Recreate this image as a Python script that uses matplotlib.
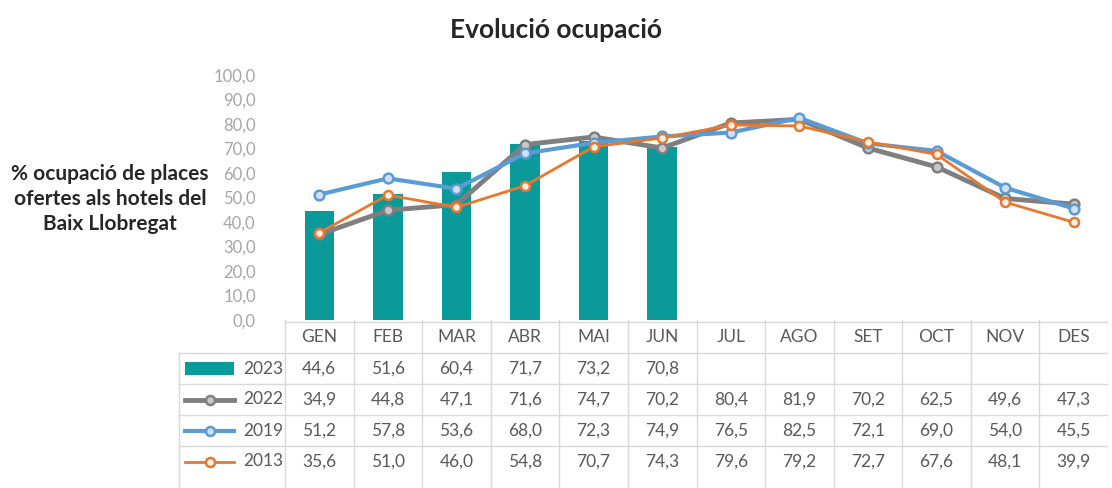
import matplotlib.pyplot as plt
from matplotlib.patches import Rectangle

plt.rcParams['font.family'] = ['Lato', 'DejaVu Sans']

months = ["GEN", "FEB", "MAR", "ABR", "MAI", "JUN", "JUL", "AGO", "SET", "OCT", "NOV", "DES"]
occ_2023 = [44.6, 51.6, 60.4, 71.7, 73.2, 70.8]
occ_2022 = [34.9, 44.8, 47.1, 71.6, 74.7, 70.2, 80.4, 81.9, 70.2, 62.5, 49.6, 47.3]
occ_2019 = [51.2, 57.8, 53.6, 68.0, 72.3, 74.9, 76.5, 82.5, 72.1, 69.0, 54.0, 45.5]
occ_2013 = [35.6, 51.0, 46.0, 54.8, 70.7, 74.3, 79.6, 79.2, 72.7, 67.6, 48.1, 39.9]
yticks = [0, 10, 20, 30, 40, 50, 60, 70, 80, 90, 100]

teal = "#0a9a9a"
gray = "#7f7f7f"
blue = "#5b9bd5"
orange = "#e8782e"
txt = "#595959"

W, H = 1112, 488
fig = plt.figure(figsize=(W / 100, H / 100), dpi=100)

def fx(px):
    return px / W

def fy(py):
    return 1 - py / H

# main chart area
left_px, right_px, top_px, base_px = 285, 1108, 75, 320
ax = fig.add_axes([fx(left_px), fy(base_px), fx(right_px - left_px), (base_px - top_px) / H])
x = list(range(len(months)))

ax.bar(x[:len(occ_2023)], occ_2023, width=0.43, color=teal, zorder=2)
ax.plot(x, occ_2022, color=gray, lw=3.5, marker="o", ms=7, mfc="#c8c8c8",
        mec=gray, mew=1.8, zorder=3)
ax.plot(x, occ_2019, color=blue, lw=3, marker="o", ms=7, mfc="#cfe0f1",
        mec=blue, mew=1.8, zorder=4)
ax.plot(x, occ_2013, color=orange, lw=2, marker="o", ms=6.5, mfc="#fdf0e6",
        mec=orange, mew=1.8, zorder=5)

ax.set_xlim(-0.5, 11.5)
ax.set_ylim(0, 100)
ax.set_yticks(yticks)
ax.set_yticklabels([f"{v:.1f}".replace(".", ",") for v in yticks], color="#a6a6a6", fontsize=12)
ax.tick_params(axis="y", length=0, pad=21)
ax.set_xticks([])
for s in ax.spines.values():
    s.set_visible(False)
ax.patch.set_alpha(0)

# data table below the chart
tab_left_px = 178
unit = (right_px - left_px) / 12.0
tx0 = -0.5 - (left_px - tab_left_px) / unit
row_h = 31.0
row0_px = 322
tab = fig.add_axes([fx(tab_left_px), 0, fx(right_px - tab_left_px), fy(320)])
tab.set_xlim(tx0, 11.5)
tab.set_ylim((H - row0_px) / row_h, -(row0_px - 320) / row_h)
tab.axis("off")

lc = "#d9d9d9"
for k in range(0, 5):
    xs = -0.5 if k == 0 else tx0
    tab.plot([xs, 11.5], [k, k], color=lc, lw=1, solid_capstyle="butt")
for b in range(13):
    tab.plot([b - 0.5, b - 0.5], [-0.06, 5.4], color=lc, lw=1)
tab.plot([tx0 + 0.01, tx0 + 0.01], [1, 5.4], color=lc, lw=1)

for i, m in enumerate(months):
    tab.text(i, 0.5, m, ha="center", va="center", fontsize=12.5, color=txt)

series = [("2023", occ_2023), ("2022", occ_2022), ("2019", occ_2019), ("2013", occ_2013)]
for r, (name, vals) in enumerate(series, start=1):
    for i, v in enumerate(vals):
        tab.text(i, r + 0.5, f"{v:.1f}".replace(".", ","), ha="center", va="center",
                 fontsize=12.5, color=txt)
    tab.text(-0.53, r + 0.5, name, ha="right", va="center", fontsize=12.5, color=txt)

# legend keys inside the table
kx0 = tx0 + 7 / unit
kx1 = tx0 + 56 / unit
tab.add_patch(Rectangle((kx0, 1.3), kx1 - kx0, 0.4, color=teal, lw=0))
keys = [(gray, 3.5, "#c8c8c8"), (blue, 3, "#cfe0f1"), (orange, 2, "#fdf0e6")]
for r, (c, lw, mf) in enumerate(keys, start=2):
    tab.plot([kx0, kx1], [r + 0.5, r + 0.5], color=c, lw=lw)
    tab.plot([(kx0 + kx1) / 2], [r + 0.5], marker="o", ms=6.5, mfc=mf, mec=c, mew=1.8)

fig.text(0.5, fy(30), "Evolució ocupació", ha="center", va="center",
         fontsize=19, fontweight="bold", color="#262626")
fig.text(fx(110), fy(199), "% ocupació de places\nofertes als hotels del\nBaix Llobregat",
         ha="center", va="center", fontsize=15, fontweight="bold", color="#262626",
         linespacing=1.3)

fig.savefig("out.png", dpi=100)
